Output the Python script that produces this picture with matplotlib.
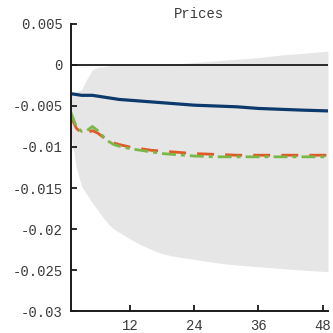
import numpy as np
import matplotlib.pyplot as plt

# horizons
months = [1, 2, 3, 4, 5, 6, 7, 8, 9, 10, 12, 14, 16, 18, 20, 24, 28, 32, 36, 40, 44, 49]

# confidence band
bandHi = [-0.0033, -0.0033, -0.0030, -0.0017, -0.0006, -0.0003, -0.0002, -0.0001, 0.0, 0.0,
          0.0, 0.0, 0.0, 0.0, 0.0001, 0.0003, 0.0005, 0.0007, 0.0009, 0.0012, 0.0014, 0.0017]
bandLo = [-0.0085, -0.0125, -0.0148, -0.0158, -0.0168, -0.0177, -0.0186, -0.0194, -0.0200, -0.0204,
          -0.0212, -0.0219, -0.0225, -0.0230, -0.0233, -0.0237, -0.0241, -0.0244, -0.0246, -0.0248, -0.0250, -0.0252]

# responses
baseline = [-0.0035, -0.0036, -0.0037, -0.0037, -0.0037, -0.0038, -0.0039, -0.0040, -0.0041, -0.0042,
            -0.0043, -0.0044, -0.0045, -0.0046, -0.0047, -0.0049, -0.0050, -0.0051, -0.0053, -0.0054, -0.0055, -0.0056]
altA = [-0.0063, -0.0077, -0.0083, -0.0083, -0.0080, -0.0083, -0.0088, -0.0092, -0.0095, -0.0097,
        -0.0100, -0.0102, -0.0104, -0.0105, -0.0106, -0.0108, -0.0109, -0.0110, -0.0110, -0.0110, -0.0110, -0.0110]
altB = [-0.0058, -0.0075, -0.0081, -0.0080, -0.0075, -0.0080, -0.0087, -0.0093, -0.0097, -0.0099,
        -0.0102, -0.0104, -0.0106, -0.0108, -0.0109, -0.0111, -0.0112, -0.0112, -0.0112, -0.0112, -0.0112, -0.0112]

yTicks = [0.005, 0, -0.005, -0.01, -0.015, -0.02, -0.025, -0.03]
yLabels = ['0.005', '0', '-0.005', '-0.01', '-0.015', '-0.02', '-0.025', '-0.03']
xTicks = [12, 24, 36, 48]

plt.rcParams['font.family'] = ['Liberation Mono', 'DejaVu Sans Mono']
txtColor = '#3a3a3a'

fig = plt.figure(figsize=(3.33, 3.33), dpi=100)
ax = fig.add_axes([0.213, 0.066, 0.772, 0.862])

ax.fill_between(months, bandLo, bandHi, color='#e6e6e6', linewidth=0)
ax.axhline(0, color='#1a1a1a', linewidth=1.3)
ax.plot(months, baseline, color='#0c3a6c', linewidth=2.3)
lA, = ax.plot(months, altA, color='#e05a28', linewidth=2.0)
lA.set_dashes((6.1, 4.0))
lB, = ax.plot(months, altB, color='#7ab648', linewidth=2.0)
lB.set_dashes((5.0, 1.8, 1.45, 1.8))

ax.set_xlim(1, 49)
ax.set_ylim(-0.03, 0.005)
ax.set_yticks(yTicks)
ax.set_yticklabels(yLabels)
ax.set_xticks(xTicks)
ax.tick_params(direction='in', length=4, width=1.3, labelsize=10, pad=6,
               colors='#1a1a1a', labelcolor=txtColor)
for s in ['top', 'right']:
    ax.spines[s].set_visible(False)
for s in ['left', 'bottom']:
    ax.spines[s].set_linewidth(1.4)
    ax.spines[s].set_color('#1a1a1a')
ax.set_title('Prices', fontsize=10, pad=4, color=txtColor)

fig.savefig('out.png', dpi=100)
